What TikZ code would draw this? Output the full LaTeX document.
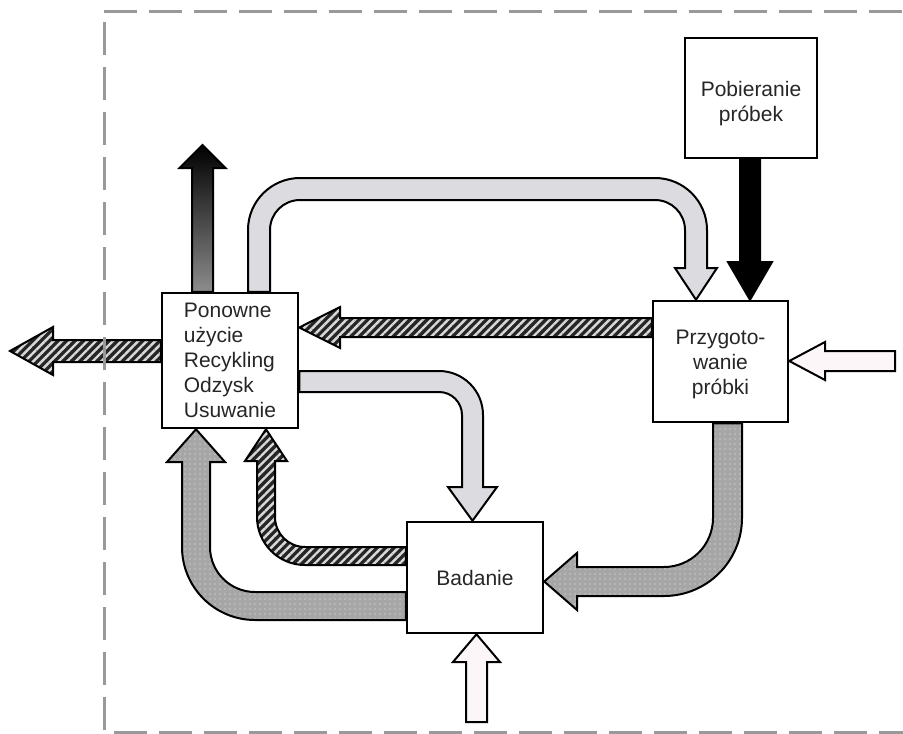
\documentclass[tikz,border=0pt]{standalone}
\usepackage{fontspec}
\setmainfont{Liberation Sans}
\usetikzlibrary{patterns.meta}
\definecolor{lgray}{RGB}{220,219,223}
\definecolor{pinkwhite}{RGB}{252,246,248}
\pgfdeclarelayer{bg}
\pgfsetlayers{bg,main}
\begin{document}
\begin{tikzpicture}[x=1pt,y=-1pt,
  box/.style={draw=black, line width=2.5pt, fill=white, inner sep=0pt,
    font=\fontsize{21}{25}\selectfont, text=black!85},
  boxtext/.style={inner sep=0pt, font=\fontsize{21}{25}\selectfont, text=black!85, align=center},
  blk/.style={draw=black, line width=2pt, line join=miter},
  hatchfill/.style={blk, preaction={fill=black!85},
    pattern={Lines[angle=45,distance=6pt,line width=2.4pt]}, pattern color=black!15},
  dotfill/.style={blk, preaction={fill=black!35},
    pattern={Dots[distance=5pt,radius=0.7pt]}, pattern color=white!85!gray},
  lightfill/.style={blk, fill=lgray},
  whitefill/.style={blk, fill=pinkwhite},
  framed/.style={draw=black!40, line width=3pt, dash pattern=on 33pt off 12pt}]

\useasboundingbox (0,0) rectangle (903,734);

% boxes
\node[box, minimum width=136pt, minimum height=135pt, align=left] (pon) at (230,360.5)
  {Ponowne\\użycie\\Recykling\\Odzysk\\Usuwanie};
\node[box, minimum width=135pt, minimum height=121pt] (prz) at (720.5,361.5) {};
\node[boxtext] (prztext) at (720.5,364.5) {Przygoto-\\wanie\\próbki};
\node[box, minimum width=132pt, minimum height=120pt] (pob) at (751,98) {};
\node[boxtext] (pobtext) at (751,104) {Pobieranie\\próbek};
\node[box, minimum width=136pt, minimum height=111pt] (bad) at (475,577.5) {Badanie};

\begin{pgfonlayer}{bg}
% gradient arrow up from pon
\draw[blk, top color=black, bottom color=black!45]
  (192,0 |- pon.north) -- (192,168) -- (179.5,168) -- (202.5,145) -- (225.5,168)
  -- (213,168) -- (213,0 |- pon.north) -- cycle;
% light gray arc arrow pon -> prz
\draw[lightfill]
  (248,0 |- pon.north) -- (248,230) arc (180:90:52pt) -- (655,178) arc (90:0:52pt)
  -- (707,268) -- (717,268) -- (696,0 |- prz.north) -- (675,268) -- (685,268)
  -- (685,230) arc (0:90:30pt) -- (300,200) arc (90:180:30pt) -- (270,0 |- pon.north) -- cycle;
% black arrow pob -> prz
\draw[blk, fill=black]
  (740,0 |- pob.south) -- (740,262) -- (728,262) -- (750,0 |- prz.north) -- (772,262)
  -- (760,262) -- (760,0 |- pob.south) -- cycle;
% white arrow into prz
\draw[whitefill]
  (895,351) -- (825,351) -- (825,342) -- (prz.east |- 0,361) -- (825,380) -- (825,371)
  -- (895,371) -- cycle;
% hatched prz -> pon
\draw[hatchfill]
  (prz.west |- 0,318) -- (340,318) -- (340,307) -- (pon.east |- 0,327.5) -- (340,348)
  -- (340,337) -- (prz.west |- 0,337) -- cycle;
% hatched out to the left
\draw[hatchfill]
  (pon.west |- 0,340) -- (53,340) -- (53,327) -- (10,351) -- (53,375) -- (53,362)
  -- (pon.west |- 0,362) -- cycle;
% light gray pon -> bad
\draw[lightfill]
  (pon.east |- 0,371) -- (439,371) arc (90:0:44pt) -- (483,487) -- (497,487)
  -- (472.5,0 |- bad.north) -- (448,487) -- (462,487) -- (462,415) arc (0:90:23pt)
  -- (pon.east |- 0,392) -- cycle;
% dotted prz -> bad
\draw[dotfill]
  (713,0 |- prz.south) -- (742,0 |- prz.south) -- (742,518) arc (0:-90:78pt)
  -- (577,596) -- (577,610) -- (bad.east |- 0,581.5) -- (577,553) -- (577,567)
  -- (664,567) arc (-90:0:49pt) -- cycle;
% hatched bad -> pon
\draw[hatchfill]
  (bad.west |- 0,547) -- (305,547) arc (270:180:30pt) -- (275,461) -- (287,461)
  -- (266,0 |- pon.south) -- (245,461) -- (257,461) -- (257,517) arc (180:270:48pt)
  -- (bad.west |- 0,565) -- cycle;
% dotted bad -> pon
\draw[dotfill]
  (bad.west |- 0,592) -- (255,592) arc (270:180:45pt) -- (210,462) -- (225,462)
  -- (196,0 |- pon.south) -- (167,462) -- (182,462) -- (182,547) arc (180:270:73pt)
  -- (bad.west |- 0,620) -- cycle;
% white arrow up into bad
\draw[whitefill]
  (466,722) -- (466,662) -- (453,662) -- (476.5,0 |- bad.south) -- (500,662) -- (487,662)
  -- (487,722) -- cycle;
\end{pgfonlayer}

% dashed frame
\draw[framed] (104,11) -- (903,11);
\draw[framed] (104,22) -- (104,732) -- (903,732);
\end{tikzpicture}
\end{document}
